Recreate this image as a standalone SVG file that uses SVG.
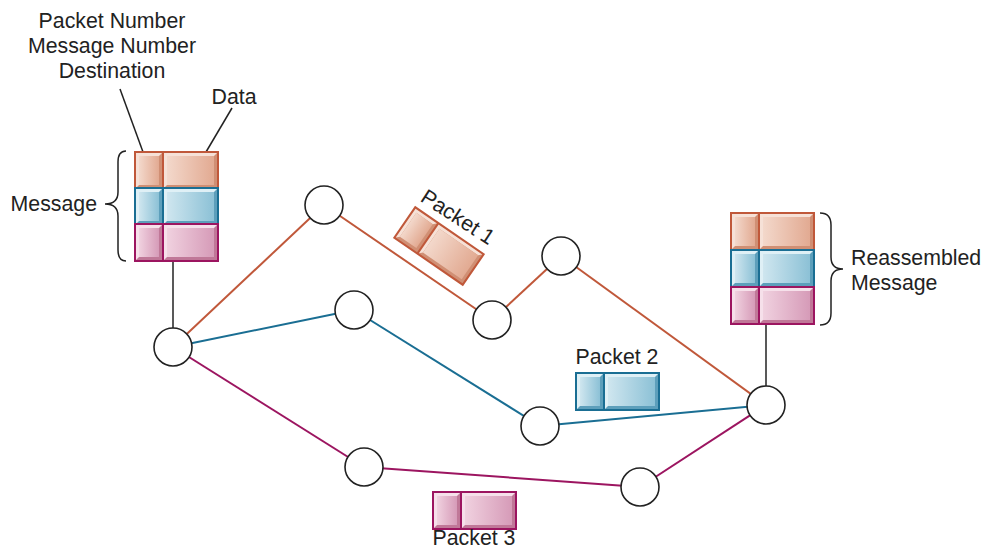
<svg xmlns="http://www.w3.org/2000/svg" xmlns:xlink="http://www.w3.org/1999/xlink" width="981" height="550" viewBox="0 0 981 550">
<style>
text{font-family:"Liberation Sans",Arial,sans-serif;font-size:21.3px;fill:#222}
.node{fill:#fff;stroke:#222;stroke-width:1.6}
.e{fill:none;stroke-width:2}
.or{stroke:#c0583a}.bl{stroke:#1a6e93}.mg{stroke:#9c1560}
.k{stroke:#222;stroke-width:1.5;fill:none}
</style>
<defs>
<linearGradient id="og" x1="0" y1="0" x2="1" y2="0"><stop offset="0" stop-color="#f3d8cb"/><stop offset="1" stop-color="#e2aa92"/></linearGradient>
<linearGradient id="bg" x1="0" y1="0" x2="1" y2="0"><stop offset="0" stop-color="#cfe6ef"/><stop offset="1" stop-color="#8cc1d6"/></linearGradient>
<linearGradient id="pg" x1="0" y1="0" x2="1" y2="0"><stop offset="0" stop-color="#f0d1df"/><stop offset="1" stop-color="#d69bb8"/></linearGradient>
<g id="o-s"><rect width="28" height="37" fill="#d08f74"/><path d="M0 0H28L24 4H4V33L0 37Z" fill="#f6e1d7"/><rect x="4" y="4" width="20" height="29" fill="url(#og)"/></g>
<g id="o-b"><rect width="55" height="37" fill="#d08f74"/><path d="M0 0H55L51 4H4V33L0 37Z" fill="#f6e1d7"/><rect x="4" y="4" width="47" height="29" fill="url(#og)"/></g>
<g id="b-s"><rect width="28" height="37" fill="#5d9fbb"/><path d="M0 0H28L24 4H4V33L0 37Z" fill="#dff0f6"/><rect x="4" y="4" width="20" height="29" fill="url(#bg)"/></g>
<g id="b-b"><rect width="55" height="37" fill="#5d9fbb"/><path d="M0 0H55L51 4H4V33L0 37Z" fill="#dff0f6"/><rect x="4" y="4" width="47" height="29" fill="url(#bg)"/></g>
<g id="p-s"><rect width="28" height="37" fill="#c07898"/><path d="M0 0H28L24 4H4V33L0 37Z" fill="#f6e0ea"/><rect x="4" y="4" width="20" height="29" fill="url(#pg)"/></g>
<g id="p-b"><rect width="55" height="37" fill="#c07898"/><path d="M0 0H55L51 4H4V33L0 37Z" fill="#f6e0ea"/><rect x="4" y="4" width="47" height="29" fill="url(#pg)"/></g>
<g id="o-row"><use xlink:href="#o-s"/><use xlink:href="#o-b" x="28"/><rect width="83" height="37" fill="none" stroke="#c0583a" stroke-width="2"/><line x1="28" y1="0" x2="28" y2="37" stroke="#c0583a" stroke-width="2"/></g>
<g id="b-row"><use xlink:href="#b-s"/><use xlink:href="#b-b" x="28"/><rect width="83" height="37" fill="none" stroke="#1a6e93" stroke-width="2"/><line x1="28" y1="0" x2="28" y2="37" stroke="#1a6e93" stroke-width="2"/></g>
<g id="p-row"><use xlink:href="#p-s"/><use xlink:href="#p-b" x="28"/><rect width="83" height="37" fill="none" stroke="#9c1560" stroke-width="2"/><line x1="28" y1="0" x2="28" y2="37" stroke="#9c1560" stroke-width="2"/></g>
</defs>
<rect width="981" height="550" fill="#fff"/>

<g id="connectors">
<line class="k" x1="173" y1="261" x2="173" y2="330"/>
<line class="k" x1="766" y1="324" x2="766" y2="387"/>
<line class="e or" x1="173" y1="347" x2="324" y2="205"/>
<line class="e or" x1="324" y1="205" x2="492" y2="320"/>
<line class="e or" x1="492" y1="320" x2="561" y2="256"/>
<line class="e or" x1="561" y1="256" x2="766" y2="405"/>
<line class="e bl" x1="173" y1="347" x2="354" y2="310"/>
<line class="e bl" x1="354" y1="310" x2="540" y2="426"/>
<line class="e bl" x1="540" y1="426" x2="766" y2="405"/>
<line class="e mg" x1="173" y1="347" x2="364" y2="467"/>
<line class="e mg" x1="364" y1="467" x2="640" y2="487"/>
<line class="e mg" x1="640" y1="487" x2="766" y2="405"/>
<line class="k" x1="120" y1="89" x2="143" y2="152"/>
<line class="k" x1="232" y1="108" x2="206" y2="152"/>
</g>

<g id="n1"><circle class="node" cx="173" cy="347" r="19"/></g>
<g id="n2"><circle class="node" cx="324" cy="205" r="19"/></g>
<g id="n3"><circle class="node" cx="354" cy="310" r="19"/></g>
<g id="n4"><circle class="node" cx="492" cy="320" r="19"/></g>
<g id="n5"><circle class="node" cx="561" cy="256" r="19"/></g>
<g id="n6"><circle class="node" cx="540" cy="426" r="19"/></g>
<g id="n7"><circle class="node" cx="364" cy="467" r="19"/></g>
<g id="n8"><circle class="node" cx="640" cy="487" r="19"/></g>
<g id="n9"><circle class="node" cx="766" cy="405" r="19"/></g>

<g id="message">
<use xlink:href="#o-row" x="135" y="152"/>
<use xlink:href="#b-row" x="135" y="188"/>
<use xlink:href="#p-row" x="135" y="224"/>
<path class="k" d="M126 151Q118 151 118 162L118 192Q118 204 105 204Q118 204 118 216L118 250Q118 261 126 261"/>
<text x="97" y="211" text-anchor="end">Message</text>
</g>

<g id="labels">
<text x="112" y="28" text-anchor="middle">Packet Number</text>
<text x="112" y="53" text-anchor="middle">Message Number</text>
<text x="112" y="78" text-anchor="middle">Destination</text>
<text x="234" y="104" text-anchor="middle">Data</text>
</g>

<g id="reassembled">
<use xlink:href="#o-row" x="731" y="213"/>
<use xlink:href="#b-row" x="731" y="250"/>
<use xlink:href="#p-row" x="731" y="287"/>
<path class="k" d="M820 213Q831 213 831 225L831 257Q831 269 843 269Q831 269 831 281L831 313Q831 325 820 325"/>
<text x="851" y="265">Reassembled</text>
<text x="851" y="290">Message</text>
</g>

<g id="packet1">
<use xlink:href="#o-row" transform="translate(439,246) rotate(34.5) translate(-41.5,-18.5)"/>
<text transform="translate(454,223) rotate(33)" text-anchor="middle">Packet 1</text>
</g>

<g id="packet2">
<use xlink:href="#b-row" x="576" y="373"/>
<text x="617" y="364" text-anchor="middle">Packet 2</text>
</g>

<g id="packet3">
<use xlink:href="#p-row" x="433" y="492"/>
<text x="474" y="545" text-anchor="middle">Packet 3</text>
</g>
</svg>
